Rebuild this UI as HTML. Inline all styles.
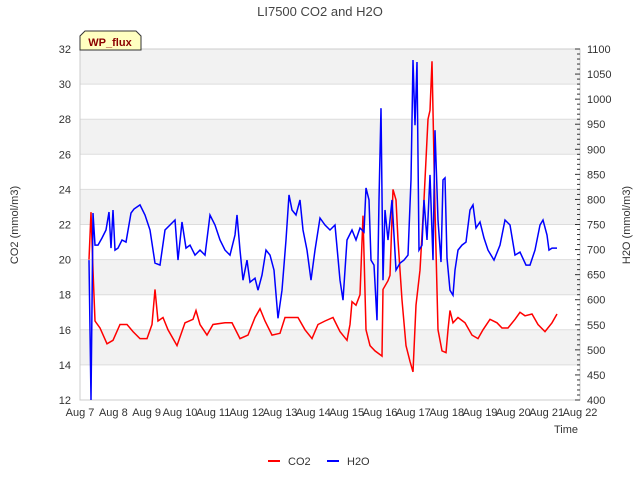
<!DOCTYPE html>
<html><head><meta charset="utf-8"><style>
body{margin:0;background:#fff;}
svg{font-family:"Liberation Sans","DejaVu Sans",sans-serif;}
</style></head><body>
<svg id="chart" width="640" height="480" xmlns="http://www.w3.org/2000/svg">
<text x="320" y="16" text-anchor="middle" font-size="13" fill="#444">LI7500 CO2 and H2O</text>
<g id="bands"></g>
<g id="grid"></g>
<rect x="80" y="49" width="500" height="351" fill="none" stroke="#ccc"/>
<g id="ticks" font-size="11" fill="#333"></g>
<path id="co2" fill="none" stroke="#f00" stroke-width="1.5"/>
<path id="h2o" fill="none" stroke="#00f" stroke-width="1.5"/>
<g>
<path d="M80,50 L80,36 L85,31 L136,31 L141,36 L141,50 Z" fill="#ffffc0" stroke="#333"/>
<text x="110" y="46" text-anchor="middle" font-size="11" font-weight="bold" fill="#8b0000">WP_flux</text>
</g>
<text x="18" y="225" transform="rotate(-90 18 225)" text-anchor="middle" font-size="11" fill="#333">CO2 (mmol/m3)</text>
<text x="630" y="225" transform="rotate(-90 630 225)" text-anchor="middle" font-size="11" fill="#333">H2O (mmol/m3)</text>
<text x="566" y="433" text-anchor="middle" font-size="11" fill="#333">Time</text>
<g><line x1="268" y1="461" x2="280" y2="461" stroke="#f00" stroke-width="2"/><text x="288" y="465" font-size="11" fill="#333">CO2</text></g>
<g><line x1="327" y1="461" x2="339" y2="461" stroke="#00f" stroke-width="2"/><text x="347" y="465" font-size="11" fill="#333">H2O</text></g>
</svg>
<script>
const xLabels=["Aug 7","Aug 8","Aug 9","Aug 10","Aug 11","Aug 12","Aug 13","Aug 14","Aug 15","Aug 16","Aug 17","Aug 18","Aug 19","Aug 20","Aug 21","Aug 22"];
const leftTicks=[12,14,16,18,20,22,24,26,28,30,32];
const rightTicks=[400,450,500,550,600,650,700,750,800,850,900,950,1000,1050,1100];
const co2Days=[0.27,0.33,0.39,0.45,0.6,0.81,0.99,1.2,1.41,1.59,1.8,2.01,2.16,2.25,2.34,2.49,2.64,2.91,3.15,3.39,3.48,3.6,3.81,3.99,4.35,4.56,4.8,5.04,5.25,5.4,5.55,5.76,6.0,6.15,6.3,6.54,6.75,6.96,7.14,7.35,7.59,7.8,8.01,8.1,8.16,8.28,8.4,8.49,8.58,8.7,8.85,9.06,9.09,9.24,9.3,9.39,9.48,9.54,9.66,9.78,9.9,9.99,10.08,10.2,10.32,10.44,10.5,10.56,10.65,10.74,10.86,10.98,11.04,11.1,11.19,11.34,11.55,11.76,11.94,12.09,12.3,12.51,12.66,12.84,13.05,13.2,13.35,13.56,13.74,13.95,14.16,14.31];
const co2Values=[20,22.7,19.4,16.5,16.1,15.2,15.4,16.3,16.3,15.9,15.5,15.5,16.3,18.3,16.5,16.7,16,15.1,16.4,16.6,17.1,16.3,15.7,16.3,16.4,16.4,15.5,15.7,16.7,17.2,16.5,15.7,15.8,16.7,16.7,16.7,16,15.5,16.3,16.5,16.7,15.9,15.4,16.3,17.6,17.4,18,22.5,16,15.1,14.8,14.5,18.3,18.8,19.1,24,23.4,21.1,17.7,15.1,14.2,13.6,17.4,19.4,23.4,28,28.5,31.3,22.8,16,14.8,14.7,16,17.1,16.4,16.7,16.4,15.7,15.5,16,16.6,16.4,16.1,16.1,16.6,17,16.8,16.9,16.3,15.9,16.4,16.9];
const h2oDays=[0.27,0.33,0.39,0.45,0.54,0.66,0.78,0.87,0.93,0.99,1.05,1.14,1.26,1.38,1.53,1.62,1.8,1.95,2.1,2.25,2.4,2.55,2.7,2.85,2.94,3.06,3.18,3.3,3.45,3.6,3.75,3.9,4.05,4.2,4.35,4.5,4.65,4.71,4.8,4.89,5.01,5.1,5.25,5.34,5.46,5.58,5.7,5.82,5.94,6.06,6.18,6.27,6.36,6.48,6.6,6.69,6.81,6.93,7.05,7.2,7.35,7.5,7.65,7.8,7.89,8.01,8.16,8.28,8.4,8.52,8.58,8.67,8.73,8.82,8.91,8.97,9.03,9.09,9.15,9.24,9.36,9.48,9.6,9.72,9.84,9.93,9.99,10.05,10.11,10.17,10.26,10.32,10.41,10.5,10.59,10.65,10.74,10.83,10.89,10.95,11.01,11.1,11.19,11.25,11.34,11.46,11.58,11.7,11.79,11.88,12.0,12.12,12.24,12.42,12.6,12.75,12.9,13.05,13.2,13.38,13.5,13.65,13.8,13.89,14.01,14.07,14.16,14.31];
const h2oValues=[679,400,773,709,709,723,739,775,703,779,699,703,719,715,773,781,789,769,739,673,669,739,749,759,679,755,703,709,689,699,689,769,749,719,699,689,729,769,699,639,679,635,643,619,649,699,689,659,563,619,719,809,779,769,799,739,699,639,699,763,749,739,749,639,599,719,739,719,743,735,823,799,679,669,559,799,982,639,779,719,799,659,673,679,689,839,1078,948,1074,699,709,799,719,849,679,938,759,675,839,843,683,619,609,659,699,709,715,779,789,743,755,723,699,679,709,759,749,689,695,669,669,699,749,759,729,699,703,703];
const X0=80,X1=580,Y0=400,Y1=49;
function xs(d){return X0+d*(X1-X0)/15;}
function yl(v){return Y0-(v-12)*(Y0-Y1)/20;}
function yr(v){return Y0-(v-400)*(Y0-Y1)/700;}
const NS="http://www.w3.org/2000/svg";
const bands=document.getElementById('bands'),grid=document.getElementById('grid'),tk=document.getElementById('ticks');
for(let i=0;i<leftTicks.length-1;i++){
  if(i%2===1){const r=document.createElementNS(NS,'rect');
  r.setAttribute('x',X0);r.setAttribute('width',X1-X0);
  r.setAttribute('y',yl(leftTicks[i+1]));r.setAttribute('height',yl(leftTicks[i])-yl(leftTicks[i+1]));
  r.setAttribute('fill','#f2f2f2');
  
  
  bands.appendChild(r);}
}
leftTicks.forEach(v=>{
  const l=document.createElementNS(NS,'line');
  l.setAttribute('x1',X0);l.setAttribute('x2',X1);l.setAttribute('y1',yl(v));l.setAttribute('y2',yl(v));l.setAttribute('stroke','#ddd');
  
  
  grid.appendChild(l);
  const t=document.createElementNS(NS,'text');
  t.setAttribute('x',71);t.setAttribute('y',yl(v)+4);t.setAttribute('text-anchor','end');t.textContent=v;
  
  
  tk.appendChild(t);
});
for(let v=400;v<=1100;v+=10){
  const l=document.createElementNS(NS,'line');const major=v%50===0;
  l.setAttribute('x1',X1);l.setAttribute('x2',X1-(major?5:3));l.setAttribute('y1',yr(v));l.setAttribute('y2',yr(v));l.setAttribute('stroke','#333');
  
  
  tk.appendChild(l);
}
rightTicks.forEach(v=>{
  const t=document.createElementNS(NS,'text');
  t.setAttribute('x',587);t.setAttribute('y',yr(v)+4);t.textContent=v;
  
  
  tk.appendChild(t);
});
xLabels.forEach((s,i)=>{
  const t=document.createElementNS(NS,'text');
  t.setAttribute('x',xs(i));t.setAttribute('y',416);t.setAttribute('text-anchor','middle');t.textContent=s;
  
  
  tk.appendChild(t);
});
document.getElementById('co2').setAttribute('d',co2Days.map((d,i)=>(i?'L':'M')+xs(d).toFixed(1)+','+yl(co2Values[i]).toFixed(1)).join(''));
document.getElementById('h2o').setAttribute('d',h2oDays.map((d,i)=>(i?'L':'M')+xs(d).toFixed(1)+','+yr(h2oValues[i]).toFixed(1)).join(''));
</script>
</body></html>
